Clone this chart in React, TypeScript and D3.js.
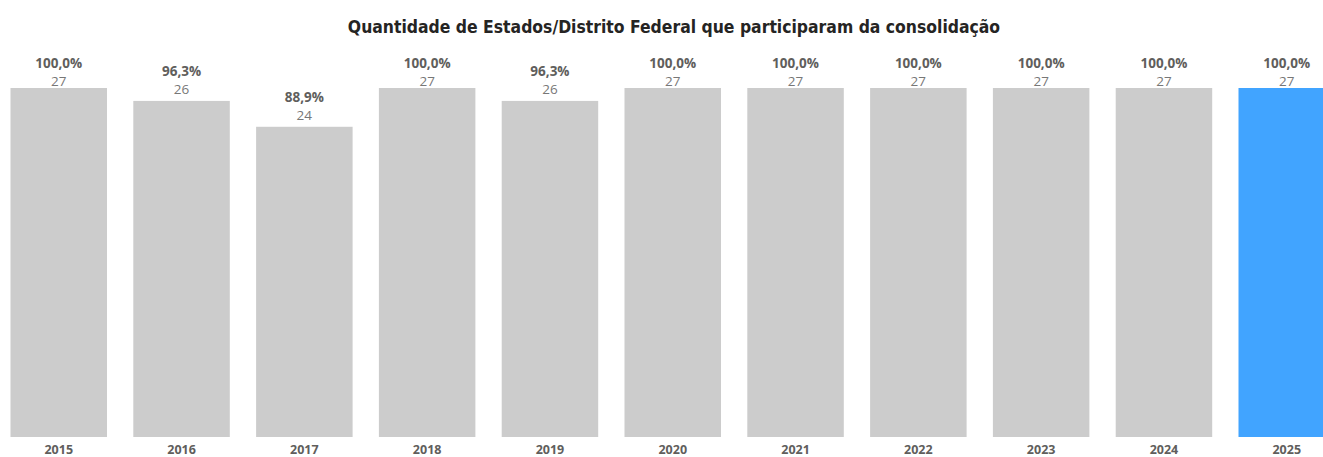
import React, { useRef, useEffect } from 'react';
import * as d3 from 'd3';

const years = ['2015', '2016', '2017', '2018', '2019', '2020', '2021', '2022', '2023', '2024', '2025'];
const counts = [27, 26, 24, 27, 26, 27, 27, 27, 27, 27, 27];
const percents = ['100,0%', '96,3%', '88,9%', '100,0%', '96,3%', '100,0%', '100,0%', '100,0%', '100,0%', '100,0%', '100,0%'];
const totalStates = 27;

const App = () => {
  const ref = useRef<SVGSVGElement>(null);

  useEffect(() => {
    const svg = d3.select(ref.current);
    svg.selectAll('*').remove();

    const width = 1323;
    const height = 457;

    // band scale: step ~122.8, bar ~96.5
    const step = 122.8;
    const pIn = 26.3 / step;
    const pOut = 13.15 / step;
    const start = 10.5 - pOut * step;
    const x = d3.scaleBand()
      .domain(years)
      .range([start, start + step * (years.length - pIn + 2 * pOut)])
      .paddingInner(pIn)
      .paddingOuter(pOut);

    const y = d3.scaleLinear()
      .domain([0, totalStates])
      .range([437, 88]);

    svg.append('text')
      .attr('x', 674)
      .attr('y', 33)
      .attr('text-anchor', 'middle')
      .attr('font-family', '"DejaVu Sans Condensed", "DejaVu Sans", sans-serif')
      .attr('font-weight', 'bold')
      .attr('font-stretch', 'condensed')
      .attr('font-size', 17.4)
      .attr('fill', '#252423')
      .text('Quantidade de Estados/Distrito Federal que participaram da consolidação');

    const data = years.map((yr, i) => ({ yr, n: counts[i], pct: percents[i], last: i === years.length - 1 }));

    // count label sits 7px above the bar, but is pushed down into the bar when out of room at the top
    const cntY = (n: number) => Math.max(y(n) - 7, 86);

    const g = svg.append('g');

    g.selectAll('rect')
      .data(data)
      .join('rect')
      .attr('x', d => x(d.yr)!)
      .attr('y', d => y(d.n))
      .attr('width', x.bandwidth())
      .attr('height', d => y(0) - y(d.n))
      .attr('fill', d => (d.last ? '#41A4FF' : '#CCCCCC'));

    g.selectAll('text.pct')
      .data(data)
      .join('text')
      .attr('class', 'pct')
      .attr('x', d => x(d.yr)! + x.bandwidth() / 2)
      .attr('y', d => cntY(d.n) - 18)
      .attr('text-anchor', 'middle')
      .attr('font-family', '"Open Sans", sans-serif')
      .attr('font-weight', 'bold')
      .attr('font-size', 13.5)
      .attr('fill', '#605E5C')
      .text(d => d.pct);

    g.selectAll('text.cnt')
      .data(data)
      .join('text')
      .attr('class', 'cnt')
      .attr('x', d => x(d.yr)! + x.bandwidth() / 2)
      .attr('y', d => cntY(d.n))
      .attr('text-anchor', 'middle')
      .attr('font-family', '"Open Sans", sans-serif')
      .attr('font-size', 13.5)
      .attr('fill', '#777777')
      .text(d => d.n);

    const axis = svg.append('g')
      .attr('transform', 'translate(0,437)')
      .call(d3.axisBottom(x).tickSize(0).tickPadding(0));
    axis.select('.domain').remove();
    axis.selectAll('text')
      .attr('dy', null)
      .attr('y', 17)
      .attr('font-family', '"Open Sans", sans-serif')
      .attr('font-weight', 'bold')
      .attr('font-size', 12.5)
      .attr('fill', '#605E5C');

    svg.attr('width', width).attr('height', height);
  }, []);

  return (
    <svg ref={ref} width={1323} height={457} style={{ position: 'absolute', left: 0, top: 0, background: '#fff' }} />
  );
};

export default App;
